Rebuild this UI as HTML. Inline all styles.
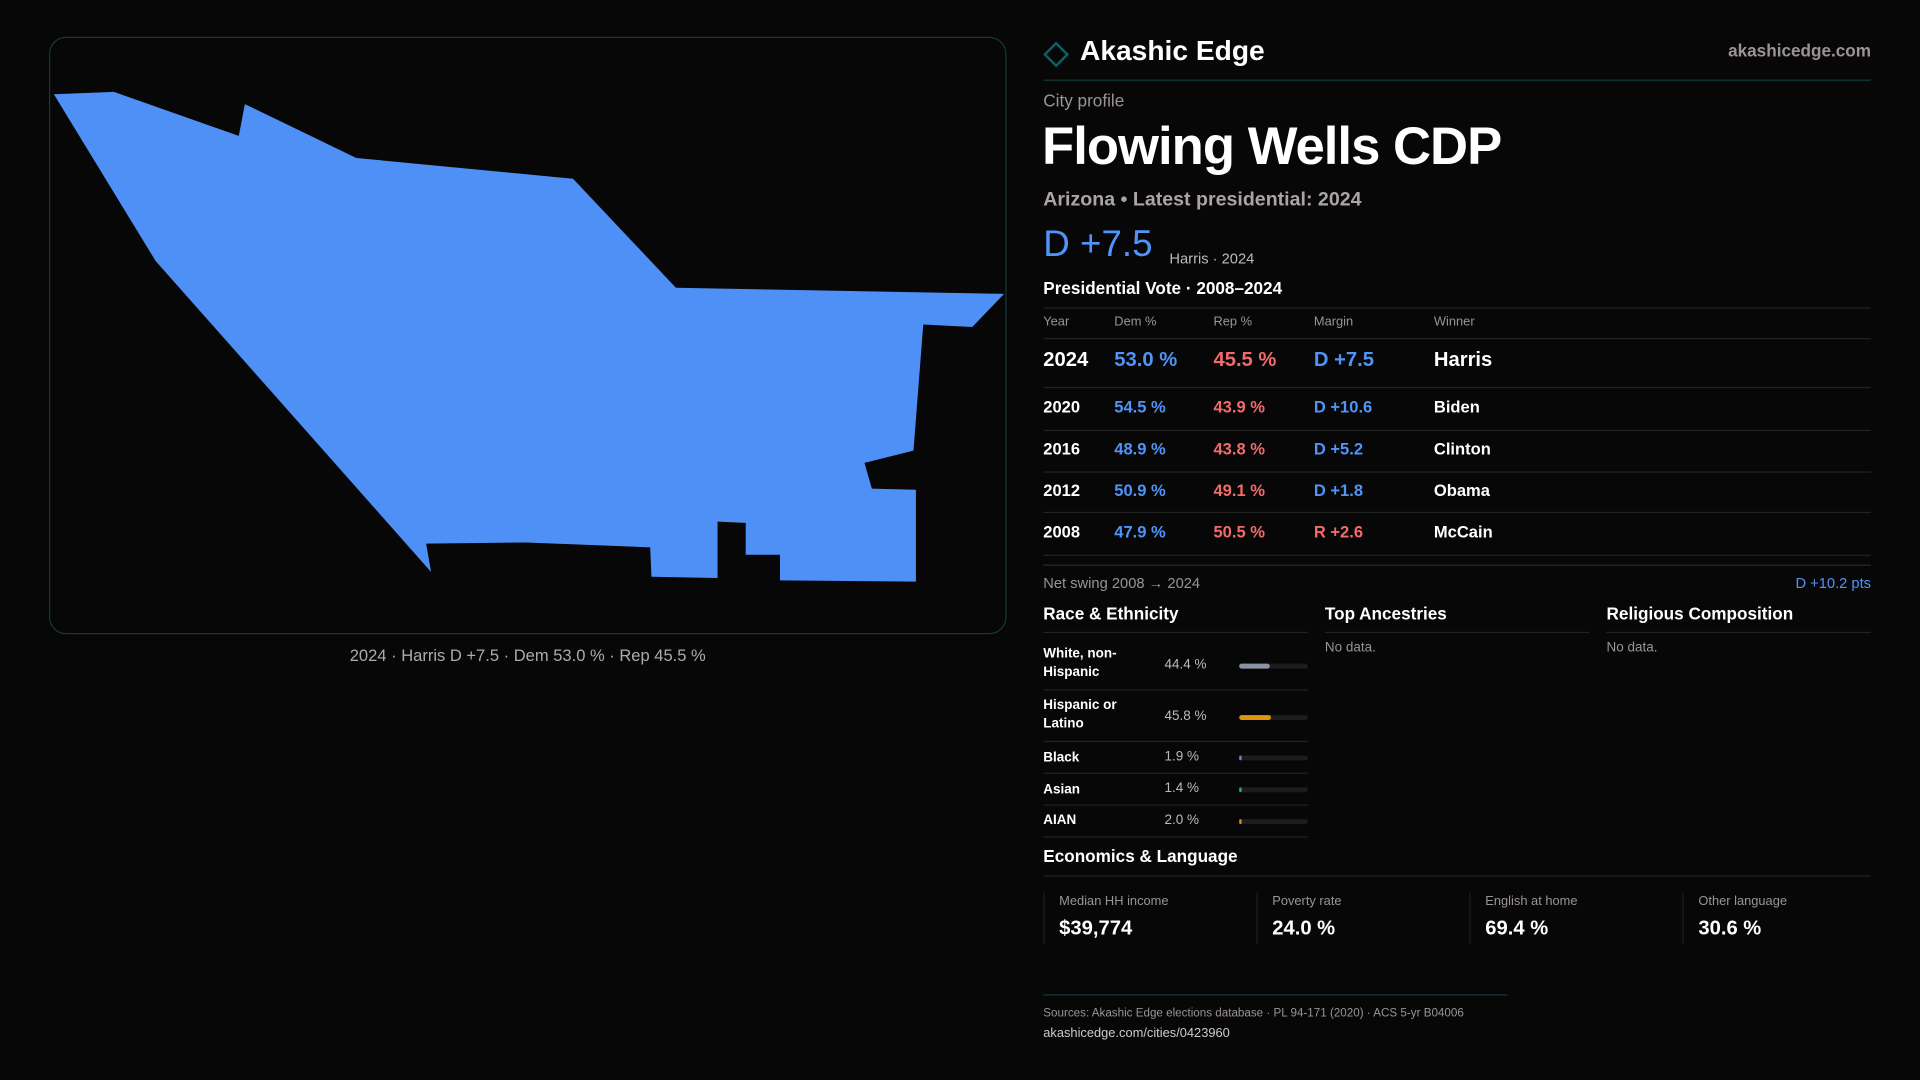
<!DOCTYPE html>
<html><head><meta charset="utf-8">
<style>
*{margin:0;padding:0;box-sizing:border-box}
html,body{width:1920px;height:1080px;background:#080708;overflow:hidden;font-family:"Liberation Sans",sans-serif;color:#fff}
#wrap{position:absolute;left:0;top:0;width:1568px;height:882px;transform:scale(1.22449);transform-origin:0 0}
.a{position:absolute;white-space:nowrap}
.line{position:absolute;height:1px;background:#222}
.gray{color:#9a9493}
.blue{color:#4f94f8}
.red{color:#f26b6b}
</style></head><body>
<div id="wrap">
  <div class="a" style="left:40px;top:30px;width:782px;height:488px;border:1px solid #123a3c;border-radius:14px;background:#070707;overflow:hidden">
    <svg width="782" height="488" style="position:absolute;left:-1px;top:-1px">
      <polygon fill="#4f90f7" transform="translate(-40,-30)" points="44,77 93,75 195,111 200,85 291,129 468,146 552,235 820,240 794,267 754,265 746,368 706,378 712,399 748,400 748,475 637,474 637,453 609,453 609,427 586,426 586,472 532,471 531,447 430,443 348,444 352,467 127,213"/>
    </svg>
  </div>
  <div class="a gray" style="left:0;width:862px;text-align:center;top:528px;font-size:13.5px;color:#b0aaa8">2024 · Harris D +7.5 · Dem 53.0 % · Rep 45.5 %</div>

  <div class="a" style="left:855px;top:37px;width:15px;height:15px;border:2px solid #0f5f63;transform:rotate(45deg)"></div>
  <div class="a" style="left:882px;top:28px;font-size:23px;font-weight:bold">Akashic Edge</div>
  <div class="a gray" style="right:40px;top:33px;font-size:14px;font-weight:bold">akashicedge.com</div>
  <div class="line" style="left:852px;top:65px;width:676px;background:#123a3c"></div>
  <div class="a gray" style="left:852px;top:74px;font-size:14px">City profile</div>
  <div class="a" style="left:851px;top:96px;font-size:43px;font-weight:bold;letter-spacing:-0.8px">Flowing Wells CDP</div>
  <div class="a gray" style="left:852px;top:155px;font-size:16px;font-weight:bold;color:#aaa4a2">Arizona • Latest presidential: 2024</div>
  <div class="a blue" style="left:852px;top:183px;font-size:30px">D +7.5</div>
  <div class="a gray" style="left:955px;top:204px;font-size:12px;color:#bbb">Harris · 2024</div>
  <div class="a" style="left:852px;top:227px;font-size:14px;font-weight:bold">Presidential Vote · 2008–2024</div>

  <div class="line" style="left:852px;top:251px;width:676px"></div>
  <div class="a gray" style="left:852px;top:257px;font-size:10.5px">Year</div>
  <div class="a gray" style="left:910px;top:257px;font-size:10.5px">Dem %</div>
  <div class="a gray" style="left:991px;top:257px;font-size:10.5px">Rep %</div>
  <div class="a gray" style="left:1073px;top:257px;font-size:10.5px">Margin</div>
  <div class="a gray" style="left:1171px;top:257px;font-size:10.5px">Winner</div>
  <div class="line" style="left:852px;top:276px;width:676px"></div>
  <div id="rows"></div>
  <div class="line" style="left:852px;top:461px;width:676px;background:#2a2a2a"></div>
  <div class="a gray" style="left:852px;top:469px;font-size:12px">Net swing 2008 → 2024</div>
  <div class="a blue" style="right:40px;top:469px;font-size:12px">D +10.2 pts</div>

  <div class="a" style="left:852px;top:493px;font-size:14px;font-weight:bold">Race &amp; Ethnicity</div>
  <div class="line" style="left:852px;top:516px;width:216px"></div>
  <div class="a" style="left:1082px;top:493px;font-size:14px;font-weight:bold">Top Ancestries</div>
  <div class="line" style="left:1082px;top:516px;width:216px"></div>
  <div class="a gray" style="left:1082px;top:523px;font-size:11px">No data.</div>
  <div class="a" style="left:1312px;top:493px;font-size:14px;font-weight:bold">Religious Composition</div>
  <div class="line" style="left:1312px;top:516px;width:216px"></div>
  <div class="a gray" style="left:1312px;top:523px;font-size:11px">No data.</div>
  <div id="race"></div>

  <div class="a" style="left:852px;top:691px;font-size:14px;font-weight:bold">Economics &amp; Language</div>
  <div class="line" style="left:852px;top:715px;width:676px"></div>
  <div id="econ"></div>

  <div class="line" style="left:852px;top:812px;width:379px;background:#123a3c"></div>
  <div class="a gray" style="left:852px;top:822px;font-size:9.5px">Sources: Akashic Edge elections database · PL 94-171 (2020) · ACS 5-yr B04006</div>
  <div class="a" style="left:852px;top:838px;font-size:10.5px;color:#ccc">akashicedge.com/cities/0423960</div>
</div>
<script>
const years=["2024","2020","2016","2012","2008"];
const demPct=[53.0,54.5,48.9,50.9,47.9];
const repPct=[45.5,43.9,43.8,49.1,50.5];
const margins=[7.5,10.6,5.2,1.8,-2.6];
const winners=["Harris","Biden","Clinton","Obama","McCain"];
const raceLabels=["White, non-<br>Hispanic","Hispanic or<br>Latino","Black","Asian","AIAN"];
const racePct=[44.4,45.8,1.9,1.4,2.0];
const raceColors=["#8a93a6","#e0970f","#8a6fe0","#20b090","#e08a10"];
const econLabels=["Median HH income","Poverty rate","English at home","Other language"];
const econValues=["$39,774","24.0 %","69.4 %","30.6 %"];

const rows=document.getElementById('rows');
const rowTops=[285,325,359,393,427];
years.forEach((y,i)=>{
  const t=rowTops[i],fs=i==0?16.5:13.5,m=margins[i];
  const cells=[[852,y,'#fff','year'],[910,demPct[i].toFixed(1)+' %','#4f94f8','dem'],[991,repPct[i].toFixed(1)+' %','#f26b6b','rep'],
    [1073,(m>=0?'D +':'R +')+Math.abs(m).toFixed(1),m>=0?'#4f94f8':'#f26b6b','margin'],[1171,winners[i],'#fff','winner']];
  cells.forEach(c=>{const d=document.createElement('div');d.className='a';
    
    
    d.style.cssText=`left:${c[0]}px;top:${t}px;font-size:${fs}px;font-weight:bold;color:${c[2]}`;d.textContent=c[1];rows.appendChild(d);});
  const l=document.createElement('div');l.className='line';l.style.cssText=`left:852px;top:${[316,351,385,418,453][i]}px;width:676px`;rows.appendChild(l);
});
const race=document.getElementById('race');
const rTops=[526,568,609,635,660];const rBot=[563,605,631,657,683];
racePct.forEach((p,i)=>{
  const t=rTops[i],mid=(t+rBot[i])/2;
  const lab=document.createElement('div');lab.className='a';
  
  
  lab.style.cssText=`left:852px;top:${i<2?t+1:t+3}px;font-size:11px;font-weight:bold;line-height:15px`;lab.innerHTML=raceLabels[i];race.appendChild(lab);
  const v=document.createElement('div');v.className='a gray';
  
  
  v.style.cssText=`left:951px;top:${mid-8}px;font-size:11px;color:#bbb`;v.textContent=p.toFixed(1)+' %';race.appendChild(v);
  const tr=document.createElement('div');tr.className='a';
  
  
  tr.style.cssText=`left:1012px;top:${mid-3}px;width:56px;height:4px;border-radius:2px;background:#1c1c1e`;
  const f=document.createElement('div');
  
  
  f.style.cssText=`width:${Math.max(1.5,56*p/100)}px;height:4px;border-radius:2px;background:${raceColors[i]}`;tr.appendChild(f);race.appendChild(tr);
  const l=document.createElement('div');l.className='line';l.style.cssText=`left:852px;top:${rBot[i]}px;width:216px`;race.appendChild(l);
});
const econ=document.getElementById('econ');
econLabels.forEach((lb,i)=>{
  const x=852+i*174;
  const c=document.createElement('div');c.className='a';
  
  
  c.style.cssText=`left:${x}px;top:729px;width:174px;height:42px;border-left:1px solid #1e1e1e`;
  c.innerHTML=`<div style="position:absolute;left:12px;top:1px;font-size:10.5px;color:#9a9493">${lb}</div><div style="position:absolute;left:12px;top:20px;font-size:16.5px;font-weight:bold">${econValues[i]}</div>`;
  econ.appendChild(c);
});
</script>
</body></html>
